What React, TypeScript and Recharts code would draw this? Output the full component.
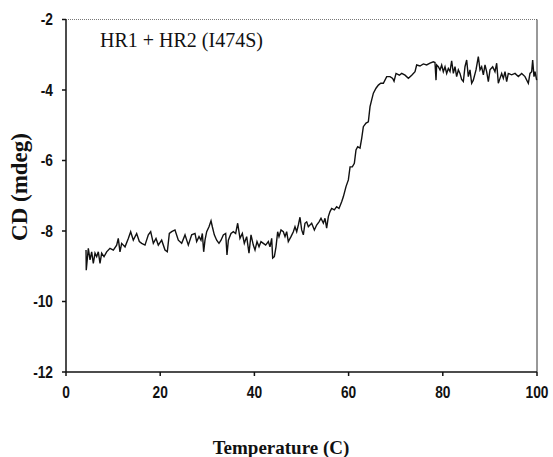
import { LineChart, Line, XAxis, YAxis, ReferenceLine } from "recharts";

// temperature (C)
const temps = [
  4.25, 4.3, 4.74, 5.1, 5.45, 5.8, 6.16, 6.51, 6.86, 7.22, 7.57, 8.07, 8.63, 9.34, 10.05, 10.76, 11.1,
  11.46, 11.82, 12.53, 13.23, 13.73, 14.29, 15.0, 15.57, 16.07, 16.77, 17.48, 17.98, 18.54, 19.11, 19.6,
  20.31, 21.02, 21.51, 21.94, 22.44, 23.14, 23.85, 24.56, 25.27, 25.97, 26.68,
  27.39, 27.74, 28.24, 28.66, 28.95, 29.23, 29.51, 29.87, 30.36, 30.79, 31.07, 31.49, 31.99, 32.48,
  32.91, 33.4, 33.9, 34.18, 34.47, 35.03, 35.53, 36.02, 36.45, 36.94, 37.44, 37.86, 38.36, 38.85,
  39.28, 39.77, 40.13, 40.55, 40.98, 41.4, 41.9, 42.39, 42.96, 43.31, 43.67, 43.88, 44.23, 44.59,
  44.94, 45.22, 45.65, 46.14, 46.5, 46.85, 47.2, 47.77, 48.27, 48.62, 48.98, 49.33, 49.68, 50.04,
  50.39, 50.74, 51.1, 51.45, 52.16, 52.73, 53.22, 53.72, 54.14, 54.64, 54.99, 55.34, 55.7, 56.05,
  56.41, 56.97, 57.46, 57.96, 58.53,
  58.88, 59.45, 59.95, 60.31, 60.79, 61.22, 61.57, 61.93, 62.42, 62.78, 63.13, 63.7, 64.19, 64.55,
  64.9, 65.26, 65.82, 66.32, 66.82, 67.38, 68.09, 68.8, 69.36, 69.65, 70.07, 70.78, 71.27, 71.98,
  72.69, 73.4, 74.1,
  74.45, 75.16, 75.87, 76.57, 77.28, 77.99, 78.34, 78.56, 78.7, 79.05, 79.41, 79.76, 80.11, 80.47,
  80.82, 81.17, 81.53, 81.88, 82.24, 82.59, 82.94, 83.3, 83.65, 84.0, 84.36, 84.71, 85.07, 85.42,
  85.77, 86.13, 86.48, 87.05, 87.54, 87.9, 88.25, 88.61, 88.96, 89.31, 89.67, 90.02, 90.59, 91.08,
  91.44, 91.79, 92.14, 92.5, 92.85, 93.21, 93.56, 93.91, 94.62, 95.33, 96.04, 96.75, 97.45, 98.16,
  98.51, 98.87, 99.08, 99.36, 99.58, 99.93,
];

// CD (mdeg)
const cd = [
  -8.54, -9.11, -8.49, -8.82, -8.59, -8.92, -8.63, -8.73, -8.59, -8.92, -8.63, -8.73, -8.59, -8.49, -8.54, -8.4, -8.21,
  -8.59, -8.35, -8.45, -8.21, -8.02, -8.26, -8.07, -8.3, -8.35, -8.4, -8.11, -8.02, -8.35, -8.21, -8.4,
  -8.26, -8.54, -8.59, -8.07, -8.02, -7.97, -8.26, -8.35, -8.11, -8.4, -8.11,
  -8.07, -8.3, -8.16, -8.26, -8.07, -8.59, -8.26, -8.02, -7.88, -7.71, -7.88, -8.11, -8.26, -8.35,
  -8.26, -8.11, -8.07, -8.68, -8.26, -8.07, -8.02, -8.07, -7.78, -8.21, -8.07, -8.35, -8.16, -8.63,
  -8.11, -8.4, -8.54, -8.3, -8.45, -8.3, -8.35, -8.4, -8.3, -8.45, -8.21, -8.77, -8.73, -8.45,
  -8.02, -8.16, -7.97, -8.02, -8.16, -8.02, -8.3, -8.16, -8.02, -7.88, -8.02, -7.83, -7.61, -7.97,
  -8.11, -7.78, -7.74, -7.88, -7.78, -7.97, -7.83, -7.74, -7.64, -7.78, -7.64, -7.92, -7.59, -7.45,
  -7.36, -7.4, -7.31, -7.36, -7.17,
  -7.03, -6.74, -6.55, -6.18, -6.18, -6.08, -5.7, -5.61, -5.65, -5.37, -5.04, -4.94, -4.9, -4.47,
  -4.28, -4.09, -3.95, -3.86, -3.81, -3.81, -3.62, -3.62, -3.67, -3.75, -3.53, -3.58, -3.53, -3.58,
  -3.67, -3.58, -3.48,
  -3.29, -3.32, -3.26, -3.29, -3.24, -3.2, -3.22, -3.72, -3.29, -3.34, -3.43, -3.29, -3.48, -3.34,
  -3.53, -3.39, -3.48, -3.17, -3.53, -3.34, -3.62, -3.43, -3.53, -3.7, -3.76, -3.34, -3.15, -3.62,
  -3.43, -3.81, -3.72, -3.43, -3.05, -3.43, -3.34, -3.57, -3.29, -3.48, -3.76, -3.43, -3.34, -3.48,
  -3.24, -3.81, -3.67, -3.53, -3.67, -3.48, -3.76, -3.53, -3.57, -3.53, -3.62, -3.53, -3.62, -3.81,
  -3.53, -3.48, -3.15, -3.62, -3.48, -3.72,
];

const xTicks = [0, 20, 40, 60, 80, 100];
const yTicks = [-12, -10, -8, -6, -4, -2];

const data = temps.map((t, i) => ({ t, cd: cd[i] }));

const tickStyle = {
  fontSize: 16,
  fontWeight: 700,
  fill: "#111",
  fontFamily: "'Liberation Sans', Arial, sans-serif",
};

const serif = "'Liberation Serif', 'DejaVu Serif', serif";

// narrow bold tick labels, like the original Arial Narrow
function XTick({ x, y, payload }: any) {
  return (
    <text transform={`translate(${x},${y}) scale(0.86,1)`} textAnchor="middle" dy="0.71em" {...tickStyle}>
      {payload.value}
    </text>
  );
}

function YTick({ x, y, payload }: any) {
  return (
    <text transform={`translate(${x},${y}) scale(0.86,1)`} textAnchor="end" dy="0.355em" {...tickStyle}>
      {payload.value}
    </text>
  );
}

export default function App() {
  return (
    <div style={{ position: "absolute", left: 0, top: 0, width: 553, height: 457, background: "#fff" }}>
      <LineChart width={553} height={457} data={data} margin={{ top: 19.5, right: 16, bottom: 55, left: 20 }}>
        <XAxis
          dataKey="t"
          type="number"
          domain={[0, 100]}
          ticks={xTicks}
          tickSize={4}
          tickMargin={11}
          height={30}
          stroke="#111"
          strokeWidth={1.5}
          tick={<XTick />}
        />
        <YAxis
          type="number"
          domain={[-12, -2]}
          ticks={yTicks}
          tickSize={4}
          tickMargin={9}
          width={46}
          stroke="#111"
          strokeWidth={1.5}
          tick={<YTick />}
        />
        <ReferenceLine y={-2} stroke="#777" strokeDasharray="1 1" />
        <ReferenceLine x={100} stroke="#333" />
        <Line
          dataKey="cd"
          type="linear"
          stroke="#111"
          strokeWidth={1.4}
          dot={false}
          isAnimationActive={false}
        />
      </LineChart>
      <div
        style={{
          position: "absolute",
          left: 100,
          top: 29,
          fontFamily: serif,
          fontSize: 20,
          color: "#111",
          whiteSpace: "nowrap",
        }}
      >
        HR1 + HR2 (I474S)
      </div>
      <div
        style={{
          position: "absolute",
          left: 281,
          top: 448,
          transform: "translate(-50%, -50%)",
          fontFamily: serif,
          fontSize: 19,
          fontWeight: 700,
          color: "#111",
          whiteSpace: "nowrap",
        }}
      >
        Temperature (C)
      </div>
      <div
        style={{
          position: "absolute",
          left: 20,
          top: 187,
          transform: "translate(-50%, -50%) rotate(-90deg)",
          fontFamily: serif,
          fontSize: 23,
          fontWeight: 700,
          color: "#111",
          whiteSpace: "nowrap",
        }}
      >
        CD (mdeg)
      </div>
    </div>
  );
}
